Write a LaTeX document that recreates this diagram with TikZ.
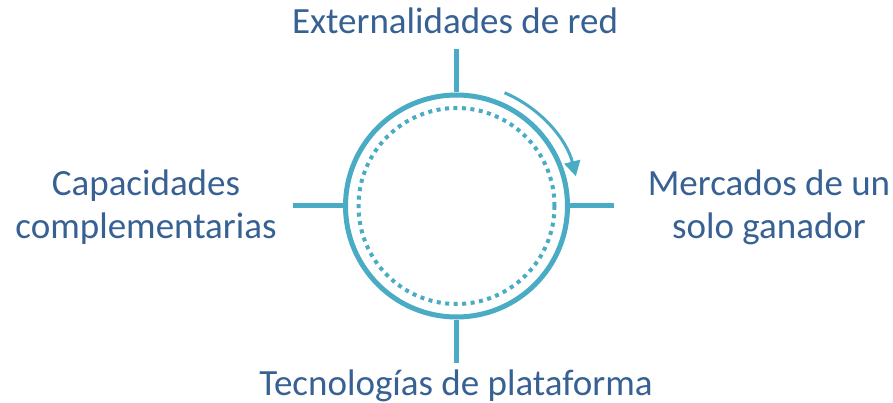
\documentclass[tikz,border=0pt]{standalone}
\usepackage{fontspec}
\setmainfont{Carlito}
\usetikzlibrary{arrows.meta,calc}
\definecolor{ring}{HTML}{4AABC5}
\definecolor{txt}{HTML}{386193}
\tikzset{
  lbl/.style={text=txt, font=\fontsize{37}{43}\selectfont, inner sep=0pt, align=center},
  tick/.style={draw=ring, line width=5pt},
}
\begin{document}
\begin{tikzpicture}[x=1pt,y=-1pt]
\useasboundingbox (0,0) rectangle (893,403);
\node[circle, draw=ring, line width=5pt, minimum size=222pt, inner sep=0pt] (ring) at (456.5,206) {};
\node[circle, draw=ring, line width=4pt, dash pattern=on 4pt off 4.5pt, minimum size=196pt, inner sep=0pt] (dots) at (456.5,206) {};
\coordinate (tT) at (456.5,49);
\coordinate (tB) at (456.5,363);
\coordinate (tL) at (293,206);
\coordinate (tR) at (614,206);
\draw[tick] (ring.north) -- (tT);
\draw[tick] (ring.south) -- (tB);
\draw[tick] (ring.west) -- (tL);
\draw[tick] (ring.east) -- (tR);
\draw[ring, line width=3pt, -{Triangle[width=16pt,length=15pt]}] ($(ring.center)+(-67:123)$) arc[start angle=-67, end angle=-14, radius=123];
\node[lbl, anchor=base] (top) at (455,34) {Externalidades de red};
\node[lbl, anchor=base] (bot) at (456,395) {Tecnologías de plataforma};
\node[lbl, anchor=base] (left) at (146,238) {Capacidades\\complementarias};
\node[lbl, anchor=base] (right) at (769,238) {Mercados de un\\solo ganador};
\end{tikzpicture}
\end{document}
